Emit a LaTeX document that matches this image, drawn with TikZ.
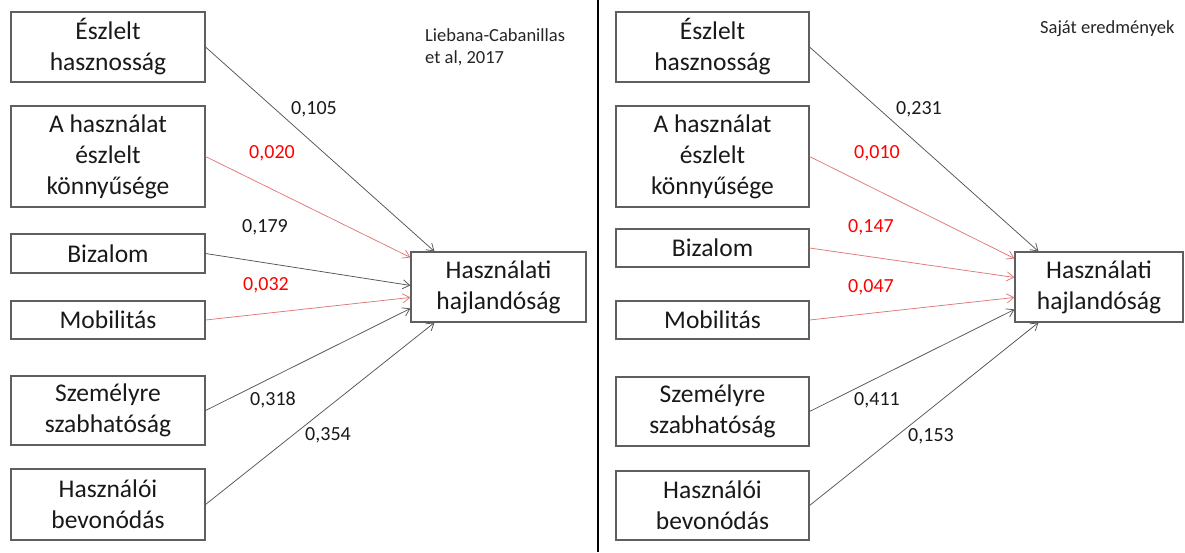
\documentclass[tikz,border=0pt]{standalone}
\usepackage{fontspec}
\setmainfont{Carlito}
\usetikzlibrary{arrows.meta,calc}
\definecolor{boxline}{RGB}{95,95,95}
\definecolor{darkarrow}{RGB}{85,85,85}
\definecolor{lightred}{RGB}{225,120,120}
\definecolor{labelred}{RGB}{255,0,0}
\tikzset{
  factor/.style={draw=boxline,line width=1.1pt,inner sep=0pt,align=center,
    minimum width=194pt,font=\fontsize{25.5}{31}\selectfont,text=black!90},
  outcome/.style={factor,minimum height=70pt},
  darkedge/.style={draw=darkarrow,line width=0.75pt,-{Straight Barb[length=7pt,width=9pt]}},
  rededge/.style={draw=lightred,line width=0.75pt,-{Straight Barb[length=7pt,width=9pt]}},
  coef/.style={inner sep=0pt,font=\fontsize{20}{24}\selectfont,text=black!90},
  redcoef/.style={coef,text=labelred},
  source/.style={inner sep=0pt,font=\fontsize{18.5}{22}\selectfont,text=black!85,align=left}
}
\begin{document}
\begin{tikzpicture}[x=1pt,y=-1pt]
\useasboundingbox (0,0) rectangle (1185,552);
\fill[white] (0,0) rectangle (1185,552);
% divider
\draw[line width=2.5pt,black] (598,0) -- (598,552);

% ---------- left panel ----------
\node[factor,minimum height=70pt]  (L1) at (108,47)    {Észlelt\\hasznosság};
\node[factor,minimum height=101pt] (L2) at (108,156.5) {A használat\\észlelt\\könnyűsége};
\node[factor,minimum height=39pt]  (L3) at (108,253.5) {Bizalom};
\node[factor,minimum height=38pt]  (L4) at (108,320)   {Mobilitás};
\node[factor,minimum height=69pt]  (L5) at (108,410.5) {Személyre\\szabhatóság};
\node[factor,minimum height=71pt]  (L6) at (108,504.5) {Használói\\bevonódás};
\node[outcome,minimum width=175pt] (LT) at (498.5,287) {Használati\\hajlandóság};

\node[source,anchor=west] (Lsrc) at (425,47) {Liebana-Cabanillas\\et al, 2017};

\coordinate (LA1) at ($(LT.north west)+(24,0)$);
\coordinate (LA2) at ($(LT.north west)+(0,6)$);
\coordinate (LA3) at ($(LT.north west)+(0,34)$);
\coordinate (LA4) at ($(LT.north west)+(0,46)$);
\coordinate (LA5) at ($(LT.north west)+(0,57)$);
\coordinate (LA6) at ($(LT.south west)+(24,0)$);

\draw[darkedge] (L1.east) -- (LA1);
\draw[rededge]  (L2.east) -- (LA2);
\draw[darkedge] (L3.east) -- (LA3);
\draw[rededge]  (L4.east) -- (LA4);
\draw[darkedge] (L5.east) -- (LA5);
\draw[darkedge] (L6.east) -- (LA6);

\node[coef]    (lc1) at (314,109) {0,105};
\node[redcoef] (lc2) at (272,153) {0,020};
\node[coef]    (lc3) at (265,227) {0,179};
\node[redcoef] (lc4) at (266,285) {0,032};
\node[coef]    (lc5) at (273,400) {0,318};
\node[coef]    (lc6) at (328,435) {0,354};

% ---------- right panel ----------
\node[factor,minimum width=193pt,minimum height=70pt]  (R1) at (712.5,47)    {Észlelt\\hasznosság};
\node[factor,minimum width=193pt,minimum height=101pt] (R2) at (712.5,156.5) {A használat\\észlelt\\könnyűsége};
\node[factor,minimum width=193pt,minimum height=38pt]  (R3) at (712.5,248)   {Bizalom};
\node[factor,minimum width=193pt,minimum height=38pt]  (R4) at (712.5,320)   {Mobilitás};
\node[factor,minimum width=193pt,minimum height=69pt]  (R5) at (712.5,411.5) {Személyre\\szabhatóság};
\node[factor,minimum width=193pt,minimum height=69pt]  (R6) at (712.5,505.5) {Használói\\bevonódás};
\node[outcome,minimum width=168pt] (RT) at (1099,287) {Használati\\hajlandóság};

\node[source,anchor=base west] (Rsrc) at (1040,33) {Saját eredmények};

\coordinate (RA1) at ($(RT.north west)+(24,0)$);
\coordinate (RA2) at ($(RT.north west)+(0,7)$);
\coordinate (RA3) at ($(RT.north west)+(0,26)$);
\coordinate (RA4) at ($(RT.north west)+(0,46)$);
\coordinate (RA5) at ($(RT.north west)+(0,58)$);
\coordinate (RA6) at ($(RT.south west)+(24,0)$);

\draw[darkedge] (R1.east) -- (RA1);
\draw[rededge]  (R2.east) -- (RA2);
\draw[rededge]  (R3.east) -- (RA3);
\draw[rededge]  (R4.east) -- (RA4);
\draw[darkedge] (R5.east) -- (RA5);
\draw[darkedge] (R6.east) -- (RA6);

\node[coef]    (rc1) at (919,109) {0,231};
\node[redcoef] (rc2) at (877,153) {0,010};
\node[redcoef] (rc3) at (871,227) {0,147};
\node[redcoef] (rc4) at (871,287) {0,047};
\node[coef]    (rc5) at (877,400) {0,411};
\node[coef]    (rc6) at (931,436) {0,153};
\end{tikzpicture}
\end{document}
